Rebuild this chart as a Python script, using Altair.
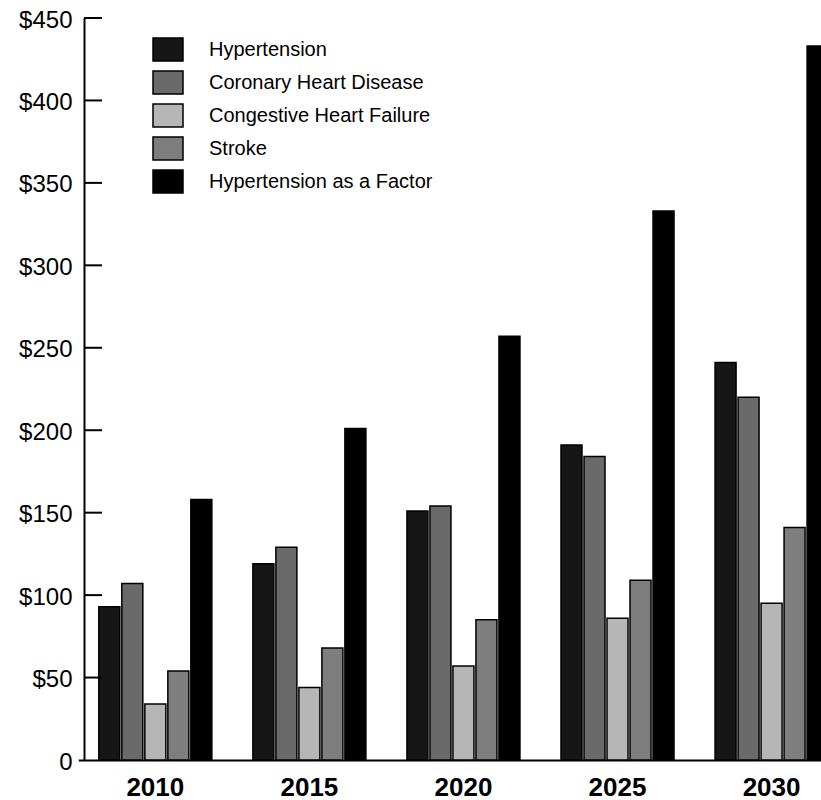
import altair as alt
import pandas as pd

years = ["2010", "2015", "2020", "2025", "2030"]
series = [
    "Hypertension",
    "Coronary Heart Disease",
    "Congestive Heart Failure",
    "Stroke",
    "Hypertension as a Factor",
]
hypertension = [93, 119, 151, 191, 241]
coronary = [107, 129, 154, 184, 220]
chf = [34, 44, 57, 86, 95]
stroke = [54, 68, 85, 109, 141]
htn_factor = [158, 201, 257, 333, 433]
y_ticks = [0, 50, 100, 150, 200, 250, 300, 350, 400, 450]
colors = ["#161616", "#6a6a6a", "#b6b6b6", "#7e7e7e", "#000000"]

rows = []
for s, vals in zip(series, [hypertension, coronary, chf, stroke, htn_factor]):
    for yr, v in zip(years, vals):
        rows.append({"year": yr, "series": s, "cost": v})
df = pd.DataFrame(rows)

FONT = "Liberation Sans"

y_axis = alt.Axis(
    title=None, values=y_ticks, tickSize=0, grid=False,
    labelExpr="datum.value == 0 ? '0' : '$' + datum.value",
    labelFontSize=24, labelPadding=12, labelColor="black",
    labelFont=FONT, domainColor="black", domainWidth=2,
    labelOverlap=False, labelOffset=2,
)
y_scale = alt.Scale(domain=[0, 450], nice=False)

bars = alt.Chart(df).mark_bar(stroke="black", strokeWidth=1.5, clip=True).encode(
    x=alt.X(
        "year:N",
        sort=years,
        scale=alt.Scale(range=[-5.7, 764.6], paddingInner=0, paddingOuter=0),
        axis=alt.Axis(
            title=None, labelAngle=0, ticks=False, domainColor="black",
            domainWidth=2, labelFontSize=26, labelFontWeight="bold",
            labelPadding=14, labelColor="black", labelFont=FONT,
        ),
    ),
    xOffset=alt.XOffset(
        "series:N", sort=series,
        scale=alt.Scale(paddingInner=0.087, paddingOuter=0.892),
    ),
    y=alt.Y("cost:Q", scale=y_scale, axis=y_axis),
    color=alt.Color(
        "series:N", sort=series,
        scale=alt.Scale(domain=series, range=colors),
        legend=alt.Legend(
            title=None, orient="none", legendX=68, legendY=15.5,
            symbolType="M-1,-0.77H1V0.77H-1Z", symbolSize=900,
            symbolStrokeColor="black", symbolStrokeWidth=1.5,
            symbolOpacity=1, labelFontSize=20, labelOffset=25,
            rowPadding=2, padding=0, labelFont=FONT, labelColor="black",
            labelLimit=0,
        ),
    ),
)

ticks = alt.Chart(pd.DataFrame({"cost": y_ticks[1:]})).mark_rule(
    color="black", strokeWidth=2
).encode(
    y=alt.Y("cost:Q", scale=y_scale, axis=y_axis),
    x=alt.value(0),
    x2=alt.value(18),
)

chart = alt.layer(bars, ticks).properties(
    width=737,
    height=742,
    autosize=alt.AutoSizeParams(type="none"),
    padding={"left": 84, "top": 18, "right": 0, "bottom": 40},
).configure_view(stroke=None)

chart.save("out.html", embed_options={"renderer": "svg", "actions": False})
